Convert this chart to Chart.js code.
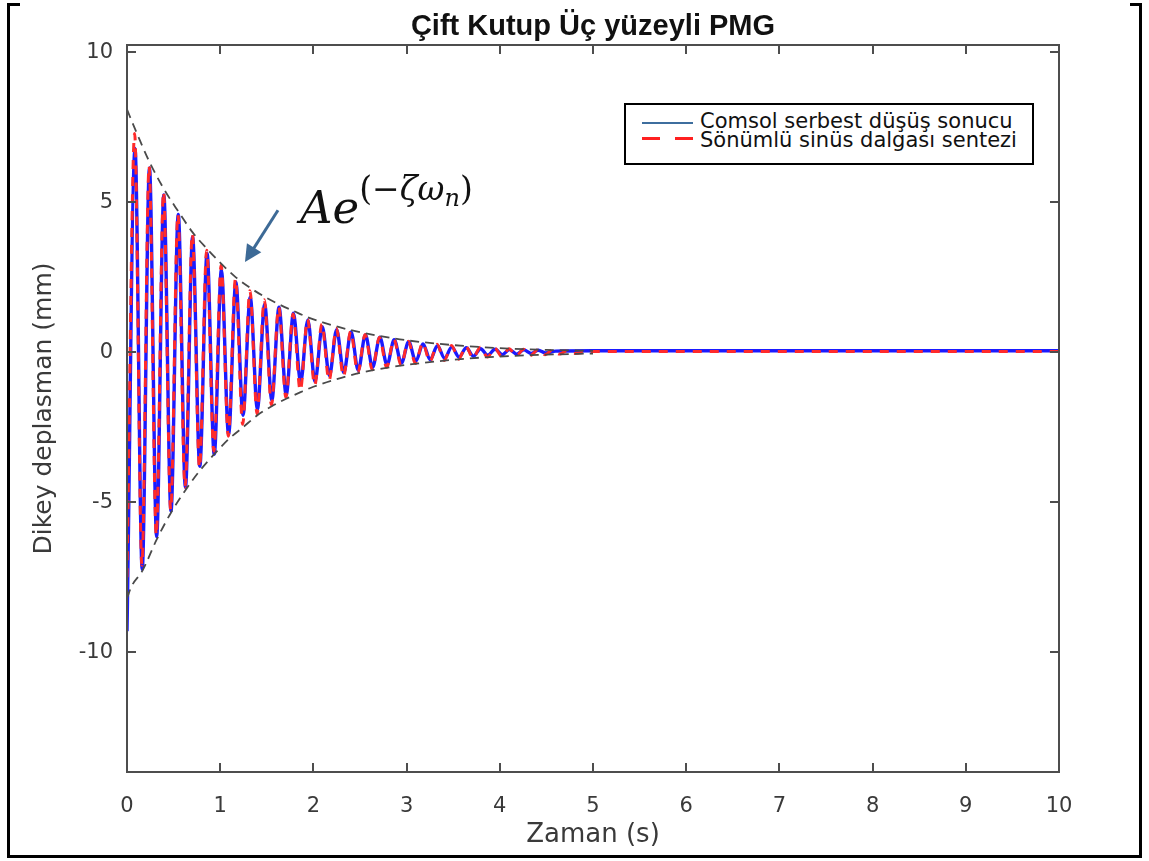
<!DOCTYPE html>
<html><head><meta charset="utf-8">
<script src="https://cdn.jsdelivr.net/npm/chart.js@4.4.1/dist/chart.umd.min.js"></script>
<style>
html,body{margin:0;padding:0;background:#fff;}
#wrap{position:relative;width:1149px;height:861px;overflow:hidden;background:#fff;}
#c{position:absolute;left:0;top:0;}
.fr{position:absolute;background:#000;}
#title{position:absolute;left:0;width:1186px;top:9px;line-height:28px;text-align:center;font:bold 29px "Liberation Sans",Arial,sans-serif;color:#111;white-space:nowrap;}
#legend{position:absolute;left:624px;top:103px;width:406px;height:58px;border:2px solid #000;background:#fff;font-family:"DejaVu Sans",sans-serif;font-size:21px;line-height:21px;color:#111;}
#legend .t{position:absolute;left:74px;white-space:nowrap;}
#formula{position:absolute;left:300px;top:166px;font-family:"DejaVu Serif",serif;font-size:45px;line-height:45px;color:#111;white-space:nowrap;}
#formula i{font-style:italic;}
#formula .sup{font-size:33px;vertical-align:23px;}
#formula .sub{font-size:24px;vertical-align:-6px;font-style:italic;}
</style></head>
<body>
<div id="wrap">
<canvas id="c" width="1149" height="861"></canvas>
<div class="fr" style="left:7px;top:3px;width:3px;height:855px;"></div>
<div class="fr" style="left:1139px;top:3px;width:3px;height:855px;"></div>
<div class="fr" style="left:7px;top:855px;width:1135px;height:3px;"></div>
<div class="fr" style="left:7px;top:3px;width:13px;height:3px;"></div>
<div class="fr" style="left:1130px;top:3px;width:12px;height:3px;"></div>
<div id="title"></div>
<div id="legend">
  <div style="position:absolute;left:16px;top:17px;width:51px;height:2px;background:#3E6E9E"></div>
  <div style="position:absolute;left:16px;top:32px;width:18px;height:3px;background:#FF2020"></div>
  <div style="position:absolute;left:49px;top:32px;width:18px;height:3px;background:#FF2020"></div>
  <div class="t" id="lg0" style="top:6px;"></div>
  <div class="t" id="lg1" style="top:25px;"></div>
</div>
<div id="formula"><i>Ae</i><span class="sup">(−<i>ζω</i><span class="sub">n</span>)</span></div>
</div>
<script>
// ---- data ----
const titleText = 'Çift Kutup Üç yüzeyli PMG';
const xTitle = 'Zaman (s)';
const yTitle = 'Dikey deplasman (mm)';
const legendLabels = ['Comsol serbest düşüş sonucu', 'Sönümlü sinüs dalgası sentezi'];
const xTicks = [0,1,2,3,4,5,6,7,8,9,10];
const yTicks = [-10,-5,0,5,10];

// Comsol free-fall result (blue): extrema times (s) and values (mm)
const comsolT = [0,0.086,0.163,0.241,0.318,0.395,0.472,0.550,0.627,0.704,0.781,0.859,0.936,1.013,1.090,1.168,1.245,1.322,1.399,1.477,1.554,1.631,1.708,1.786,1.863,1.940,2.017,2.095,2.172,2.249,2.326,2.404,2.481,2.558,2.635,2.713,2.790,2.867,2.944,3.022,3.099,3.176,3.253,3.331,3.408,3.485,3.562,3.640,3.717,3.794,3.871,3.949,4.026,4.103,4.180,4.258,4.335,4.412,4.489,4.600,5.000,10.000];
const comsolY = [-9.3,6.8,-7.24,6.15,-6.15,5.25,-5.3,4.6,-4.5,3.85,-3.8,3.3,-3.4,2.75,-2.75,2.35,-2.1,1.85,-1.9,1.6,-1.6,1.5,-1.42,1.3,-1.0,1.08,-0.98,0.85,-0.78,0.75,-0.68,0.68,-0.6,0.58,-0.5,0.5,-0.42,0.42,-0.36,0.35,-0.3,0.28,-0.25,0.22,-0.2,0.18,-0.16,0.15,-0.13,0.12,-0.1,0.1,-0.08,0.09,-0.06,0.08,-0.04,0.07,-0.02,0.04,0.05,0.05];

// damped sine synthesis (red dashed)
const sentezT = [0,0.082,0.160,0.237,0.314,0.392,0.469,0.546,0.623,0.701,0.778,0.855,0.932,1.010,1.087,1.164,1.241,1.319,1.396,1.473,1.550,1.628,1.705,1.782,1.859,1.937,2.014,2.091,2.168,2.246,2.323,2.400,2.477,2.555,2.632,2.709,2.786,2.864,2.941,3.018,3.095,3.173,3.250,3.327,3.404,3.482,3.559,3.636,3.713,3.791,3.868,3.945,4.022,4.100,4.177,4.254,4.331,4.409,4.486,4.563,4.640,4.718,4.795,5.000,10.000];
const sentezY = [-7.5,7.3,-7.1,6.2,-6.1,5.35,-5.25,4.6,-4.5,3.95,-3.85,3.4,-3.3,2.9,-2.8,2.45,-2.4,2.05,-2.05,1.75,-1.75,1.5,-1.5,1.28,-1.28,1.1,-1.1,0.94,-0.94,0.8,-0.8,0.69,-0.68,0.59,-0.58,0.5,-0.5,0.43,-0.43,0.37,-0.37,0.31,-0.31,0.27,-0.27,0.23,-0.23,0.2,-0.19,0.17,-0.16,0.14,-0.14,0.12,-0.12,0.1,-0.1,0.09,-0.08,0.07,-0.06,0.05,-0.04,0.03,0.03];

// exponential envelope A e^(-zeta w_n t), upper and lower (black dashed)
const envUpT = [0,0.086,0.241,0.395,0.550,0.704,0.859,1.013,1.168,1.322,1.477,1.631,1.786,1.940,2.100,2.400,2.700,3.000,3.500,4.000,4.500,5.000];
const envUpY = [8.1,7.45,6.35,5.45,4.7,4.0,3.45,2.95,2.5,2.15,1.85,1.6,1.38,1.17,1.0,0.74,0.55,0.4,0.24,0.14,0.08,0.05];
const envLowT = [0,0.050,0.163,0.318,0.472,0.627,0.781,0.936,1.090,1.245,1.399,1.554,1.708,1.863,2.000,2.300,2.600,3.000,3.500,4.000,4.500,5.000];
const envLowY = [-8.2,-7.8,-7.3,-6.25,-5.35,-4.6,-3.95,-3.4,-2.9,-2.5,-2.1,-1.8,-1.55,-1.33,-1.15,-0.85,-0.62,-0.42,-0.25,-0.14,-0.08,-0.04];

// annotation arrow (data coordinates: tail, head)
const arrowFrom = [1.62, 4.74];
const arrowTo = [1.266, 3.01];

document.getElementById('title').textContent = titleText;
document.getElementById('lg0').textContent = legendLabels[0];
document.getElementById('lg1').textContent = legendLabels[1];

const pts = (t, y) => t.map((v, i) => ({x: v, y: y[i]}));

const boxPlugin = {
  id: 'boxTicks',
  afterDatasetsDraw(chart) {
    const {ctx, chartArea: a, scales: {x, y}} = chart;
    ctx.save();
    // arrow
    const x0 = x.getPixelForValue(arrowFrom[0]), y0 = y.getPixelForValue(arrowFrom[1]);
    const x1 = x.getPixelForValue(arrowTo[0]), y1 = y.getPixelForValue(arrowTo[1]);
    const ang = Math.atan2(y1 - y0, x1 - x0);
    const hl = 17, hw = 8.5;
    ctx.strokeStyle = '#3D6A96'; ctx.fillStyle = '#3D6A96'; ctx.lineWidth = 3;
    ctx.beginPath(); ctx.moveTo(x0, y0);
    ctx.lineTo(x1 - Math.cos(ang) * hl * 0.8, y1 - Math.sin(ang) * hl * 0.8); ctx.stroke();
    ctx.beginPath(); ctx.moveTo(x1, y1);
    ctx.lineTo(x1 - Math.cos(ang) * hl + Math.sin(ang) * hw, y1 - Math.sin(ang) * hl - Math.cos(ang) * hw);
    ctx.lineTo(x1 - Math.cos(ang) * hl - Math.sin(ang) * hw, y1 - Math.sin(ang) * hl + Math.cos(ang) * hw);
    ctx.closePath(); ctx.fill();
    // box
    ctx.strokeStyle = '#4d4d4d'; ctx.lineWidth = 2;
    ctx.strokeRect(a.left, a.top, a.right - a.left, a.bottom - a.top);
    const tl = 9;
    ctx.beginPath();
    xTicks.forEach(v => {
      const px = Math.round(x.getPixelForValue(v));
      ctx.moveTo(px, a.bottom); ctx.lineTo(px, a.bottom - tl);
      ctx.moveTo(px, a.top); ctx.lineTo(px, a.top + tl);
    });
    yTicks.forEach(v => {
      const py = Math.round(y.getPixelForValue(v));
      ctx.moveTo(a.left, py); ctx.lineTo(a.left + tl, py);
      ctx.moveTo(a.right, py); ctx.lineTo(a.right - tl, py);
    });
    ctx.stroke();
    ctx.restore();
  }
};

const tickFont = {family: '"DejaVu Sans", sans-serif', size: 21};
new Chart(document.getElementById('c'), {
  type: 'line',
  data: {
    datasets: [
      {label: 'envU', data: pts(envUpT, envUpY), borderColor: '#4a4a4a', borderWidth: 1.8, borderDash: [9, 6], pointRadius: 0, cubicInterpolationMode: 'monotone', fill: false},
      {label: 'envL', data: pts(envLowT, envLowY), borderColor: '#4a4a4a', borderWidth: 1.8, borderDash: [9, 6], pointRadius: 0, cubicInterpolationMode: 'monotone', fill: false},
      {label: legendLabels[1], data: pts(sentezT, sentezY), borderColor: '#FF2A2A', borderWidth: 3, borderDash: [9, 8], pointRadius: 0, cubicInterpolationMode: 'monotone', fill: false},
      {label: legendLabels[0], data: pts(comsolT, comsolY), borderColor: '#1A1AFF', borderWidth: 3.4, pointRadius: 0, cubicInterpolationMode: 'monotone', fill: false}
    ]
  },
  options: {
    responsive: false,
    animation: false,
    devicePixelRatio: 1,
    layout: {padding: {top: 45, right: 90, left: 0, bottom: 0}},
    plugins: {legend: {display: false}, tooltip: {enabled: false}, title: {display: false}},
    scales: {
      x: {
        type: 'linear', min: 0, max: 10,
        afterBuildTicks: s => { s.ticks = xTicks.map(v => ({value: v})); },
        afterFit: s => { s.height = 89; },
        grid: {display: false, drawTicks: false},
        border: {display: false},
        ticks: {font: tickFont, color: '#3a3a3a', padding: 22, maxRotation: 0, autoSkip: false},
        title: {display: true, text: xTitle, color: '#3a3a3a', font: {family: '"DejaVu Sans", sans-serif', size: 26}, padding: {top: 0, bottom: 10}}
      },
      y: {
        type: 'linear', min: -14, max: 10.25,
        afterBuildTicks: s => { s.ticks = yTicks.map(v => ({value: v})); },
        afterFit: s => { s.width = 127; },
        grid: {display: false, drawTicks: false},
        border: {display: false},
        ticks: {font: tickFont, color: '#3a3a3a', padding: 14, autoSkip: false},
        title: {display: true, text: yTitle, color: '#3a3a3a', font: {family: '"DejaVu Sans", sans-serif', size: 25}, padding: {top: 29, bottom: 0}}
      }
    }
  },
  plugins: [boxPlugin]
});
</script>
</body></html>
